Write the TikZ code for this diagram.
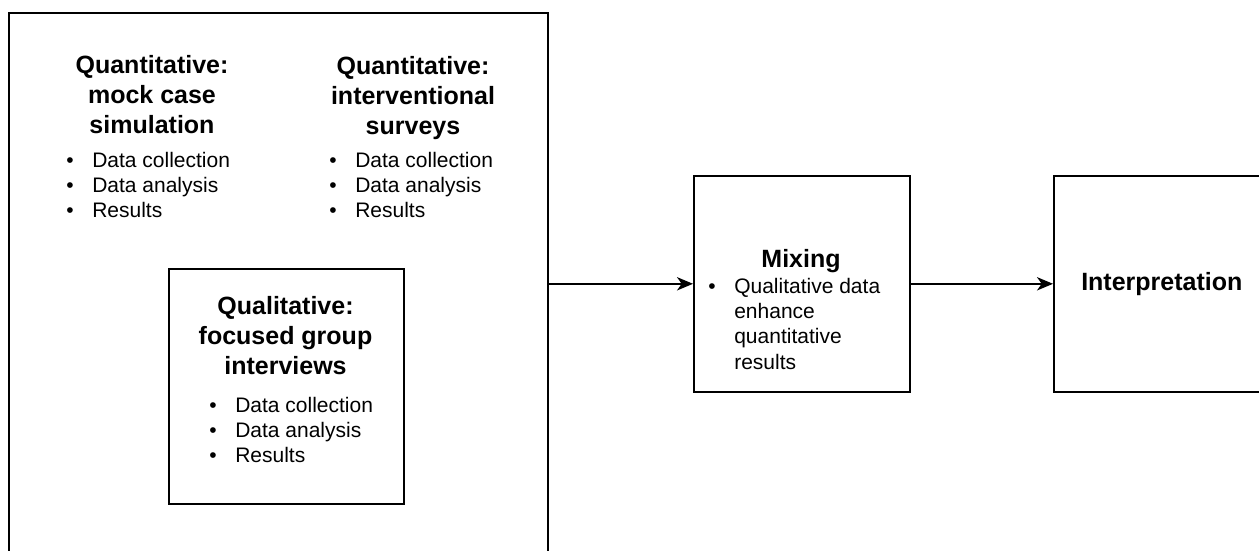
\documentclass[tikz,border=0pt]{standalone}
\usepackage{fontspec}
\setmainfont{Liberation Sans}
\usepackage{array}
\usetikzlibrary{positioning, arrows.meta}

\tikzset{
  block/.style={draw, line width=1.2pt, inner sep=0pt, anchor=north west},
  head/.style={font=\bfseries\fontsize{18.75}{22.5}\selectfont, align=center, anchor=base, inner sep=0pt},
  items/.style={font=\fontsize{15.75}{19}\selectfont, anchor=base west, inner sep=0pt},
  arrow/.style={-{Stealth[length=12pt,width=10pt,inset=3.5pt]}, line width=1.2pt}
}
\newcommand{\phaselist}{\begin{tabular}[t]{@{}l@{\hspace{14pt}}l@{}}
  \textbullet & Data collection\\ \textbullet & Data analysis\\ \textbullet & Results
\end{tabular}}

\begin{document}
\begin{tikzpicture}[x=0.75pt,y=-0.75pt]
  \useasboundingbox (0,0) rectangle (1259,550);
  \clip (0,0) rectangle (1259,550);
  \node[block, minimum width=404.25pt, minimum height=411pt] (study) at (8,12) {};
  \node[block, minimum width=176.25pt, minimum height=176.25pt] (qual) at (168,268) {};
  \node[block, minimum width=162pt, minimum height=162pt] (mixing) at (693,175) {};
  \node[block, minimum width=162pt, minimum height=162pt, anchor=north west,
        font=\bfseries\fontsize{18.75}{22.5}\selectfont] (interp) at (1053,175) {Interpretation};

  \node[head] (mockhead) at (152,133) {Quantitative:\\mock case\\simulation};
  \node[items] (mocklist) at (66,167) {\phaselist};
  \node[head] (surveyhead) at (413,134) {Quantitative:\\interventional\\surveys};
  \node[items] (surveylist) at (329,167) {\phaselist};
  \node[head] (qualhead) at (285.5,374) {Qualitative:\\focused group\\interviews};
  \node[items] (quallist) at (209,412) {\phaselist};

  \node[head] (mixhead) at (801,267) {Mixing};
  \node[items] (mixlist) at (708,293) {\begin{tabular}[t]{@{}l@{\hspace{14pt}}>{\raggedright\arraybackslash}p{125pt}@{}}
    \textbullet & Qualitative data enhance quantitative results
  \end{tabular}};

  \draw[arrow] (study.east |- mixing.west) -- (mixing.west);
  \draw[arrow] (mixing.east) -- (interp.west);
\end{tikzpicture}
\end{document}
